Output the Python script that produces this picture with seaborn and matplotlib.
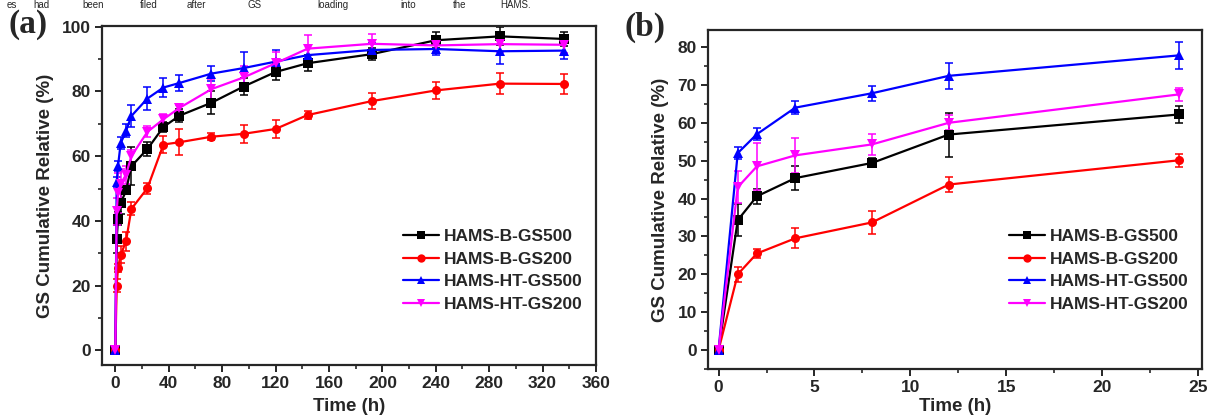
import numpy as np
import pandas as pd
import matplotlib
matplotlib.use("Agg")
import matplotlib.pyplot as plt
from matplotlib.lines import Line2D
from matplotlib.ticker import MultipleLocator
import seaborn as sns

# ---------------- data ----------------
time_h = [0, 1, 2, 4, 8, 12, 24, 36, 48, 72, 96, 120, 144, 192, 240, 288, 336]
series_names = ["HAMS-B-GS500", "HAMS-B-GS200", "HAMS-HT-GS500", "HAMS-HT-GS200"]

b_gs500 = [0, 34.3, 40.6, 45.4, 49.4, 56.9, 62.2, 69.0, 72.5, 76.5, 81.5, 86.0, 88.7, 91.5, 95.8, 97.0, 96.2]
b_gs200 = [0, 20.0, 25.5, 29.5, 33.7, 43.7, 50.1, 63.6, 64.3, 66.0, 66.9, 68.4, 72.7, 77.0, 80.3, 82.4, 82.3]
ht_gs500 = [0, 52.0, 57.0, 64.0, 67.8, 72.4, 77.8, 81.2, 82.6, 85.5, 87.2, 89.2, 91.2, 92.8, 93.1, 92.4, 92.6]
ht_gs200 = [0, 43.0, 48.5, 51.4, 54.3, 60.0, 67.5, 71.4, 74.9, 80.7, 84.3, 88.7, 93.2, 94.7, 94.2, 94.6, 94.4]

b_gs500_err = [0, 4.3, 2.0, 3.2, 1.2, 5.8, 2.3, 1.5, 2.0, 3.5, 2.5, 2.5, 2.5, 1.8, 2.5, 2.8, 2.3]
b_gs200_err = [0, 2.0, 1.2, 2.6, 3.0, 2.0, 1.7, 2.5, 4.0, 1.0, 2.7, 2.7, 1.2, 2.5, 2.5, 3.3, 3.2]
ht_gs500_err = [0, 1.6, 1.6, 1.8, 2.0, 3.5, 3.5, 3.0, 2.6, 2.4, 5.0, 3.5, 3.0, 2.0, 2.0, 4.0, 2.5]
ht_gs200_err = [0, 4.2, 6.2, 4.6, 2.8, 2.0, 1.7, 1.5, 1.0, 3.0, 3.5, 3.5, 4.3, 3.0, 2.0, 2.5, 2.5]

series_values = [b_gs500, b_gs200, ht_gs500, ht_gs200]
series_errors = [b_gs500_err, b_gs200_err, ht_gs500_err, ht_gs200_err]

colors = ["#000000", "#ff0000", "#0000ff", "#ff00ff"]
markers = ["s", "o", "^", "v"]

x_label = "Time (h)"
y_label = "GS Cumulative Relative (%)"
panel_labels = ["(a)", "(b)"]
header_words = ["es", "had", "been", "filed", "after", "GS", "loading", "into", "the", "HAMS."]

# ---------------- frame ----------------
rows = []
for name, vals, errs in zip(series_names, series_values, series_errors):
    for t, v, e in zip(time_h, vals, errs):
        rows.append({"time": t, "value": v, "err": e, "series": name})
df = pd.DataFrame(rows)

sns.set_theme(style="ticks")
plt.rcParams["font.family"] = ["Liberation Sans", "DejaVu Sans"]
plt.rcParams["font.weight"] = "bold"
plt.rcParams["axes.labelweight"] = "bold"

W, H = 1211, 419
fig = plt.figure(figsize=(W / 100, H / 100), dpi=100)

def fx(px):
    return px / W

def fy(py):
    return 1 - py / H

ax_a = fig.add_axes([fx(102), fy(365), fx(596 - 102), (365 - 26) / H])
ax_b = fig.add_axes([fx(708), fy(369), fx(1202 - 708), (369 - 30) / H])

panels = [
    (ax_a, 400, (-10, 360), (-4.5, 100.2), 40, 20, 20, 10, 403, 5),
    (ax_b, 24, (-0.55, 25.2), (-5, 84.5), 5, 2.5, 10, 5, 1009, 2),
]

palette = dict(zip(series_names, colors))
marker_map = dict(zip(series_names, markers))

for (ax, tmax, xl, yl, xmaj, xmin, ymaj, ymin, leg_x, xpad), plabel in zip(panels, panel_labels):
    sub = df[df["time"] <= tmax]
    sns.lineplot(data=sub, x="time", y="value", hue="series", style="series",
                 palette=palette, markers=marker_map, dashes=False,
                 markersize=6.5, linewidth=1.6, markeredgewidth=0,
                 errorbar=None, legend=False, ax=ax, zorder=3)
    for name, c in zip(series_names, colors):
        s = sub[sub["series"] == name]
        ax.errorbar(s["time"], s["value"], yerr=s["err"], fmt="none",
                    ecolor=c, elinewidth=1.1, capsize=3, capthick=1.1, zorder=2)
    ax.set_xlim(*xl)
    ax.set_ylim(*yl)
    ax.xaxis.set_major_locator(MultipleLocator(xmaj))
    ax.xaxis.set_minor_locator(MultipleLocator(xmin))
    ax.yaxis.set_major_locator(MultipleLocator(ymaj))
    ax.yaxis.set_minor_locator(MultipleLocator(ymin))
    ax.tick_params(which="major", direction="out", length=5, width=1.4, labelsize=12.5, pad=3)
    ax.tick_params(which="minor", direction="out", length=3, width=1.2)
    for sp in ax.spines.values():
        sp.set_linewidth(1.6)
        sp.set_visible(True)
    for lab in ax.get_xticklabels() + ax.get_yticklabels():
        lab.set_fontweight("bold")
    ax.set_xlabel(x_label, fontsize=13.5, fontweight="bold", labelpad=xpad)
    ax.set_ylabel(y_label, fontsize=13.5, fontweight="bold", labelpad=6)
    ax.set_facecolor("white")

    handles = [Line2D([0], [0], color=c, marker=m, markersize=6, markeredgewidth=0, linewidth=1.6)
               for c, m in zip(colors, markers)]
    fig.legend(handles, series_names, loc="upper left", frameon=False,
               prop={"weight": "bold", "size": 12.5}, handlelength=2.1,
               handletextpad=0.25, labelspacing=0.43, borderaxespad=0, borderpad=0,
               bbox_to_anchor=(fx(leg_x), fy(229)), bbox_transform=fig.transFigure)

fig.text(fx(8), fy(25), panel_labels[0], fontsize=24, fontweight="bold",
         family=["Liberation Serif", "DejaVu Serif"], va="center", ha="left")
fig.text(fx(624), fy(27), panel_labels[1], fontsize=24, fontweight="bold",
         family=["Liberation Serif", "DejaVu Serif"], va="center", ha="left")

word_x = [7, 33, 82, 140, 187, 247, 317, 400, 453, 500]
for w, x in zip(header_words, word_x):
    fig.text(fx(x), fy(8.5), w, fontsize=7, fontweight="normal",
             family=["Liberation Sans", "DejaVu Sans"], va="baseline", ha="left")

fig.savefig("out.png", dpi=100, facecolor="white")
